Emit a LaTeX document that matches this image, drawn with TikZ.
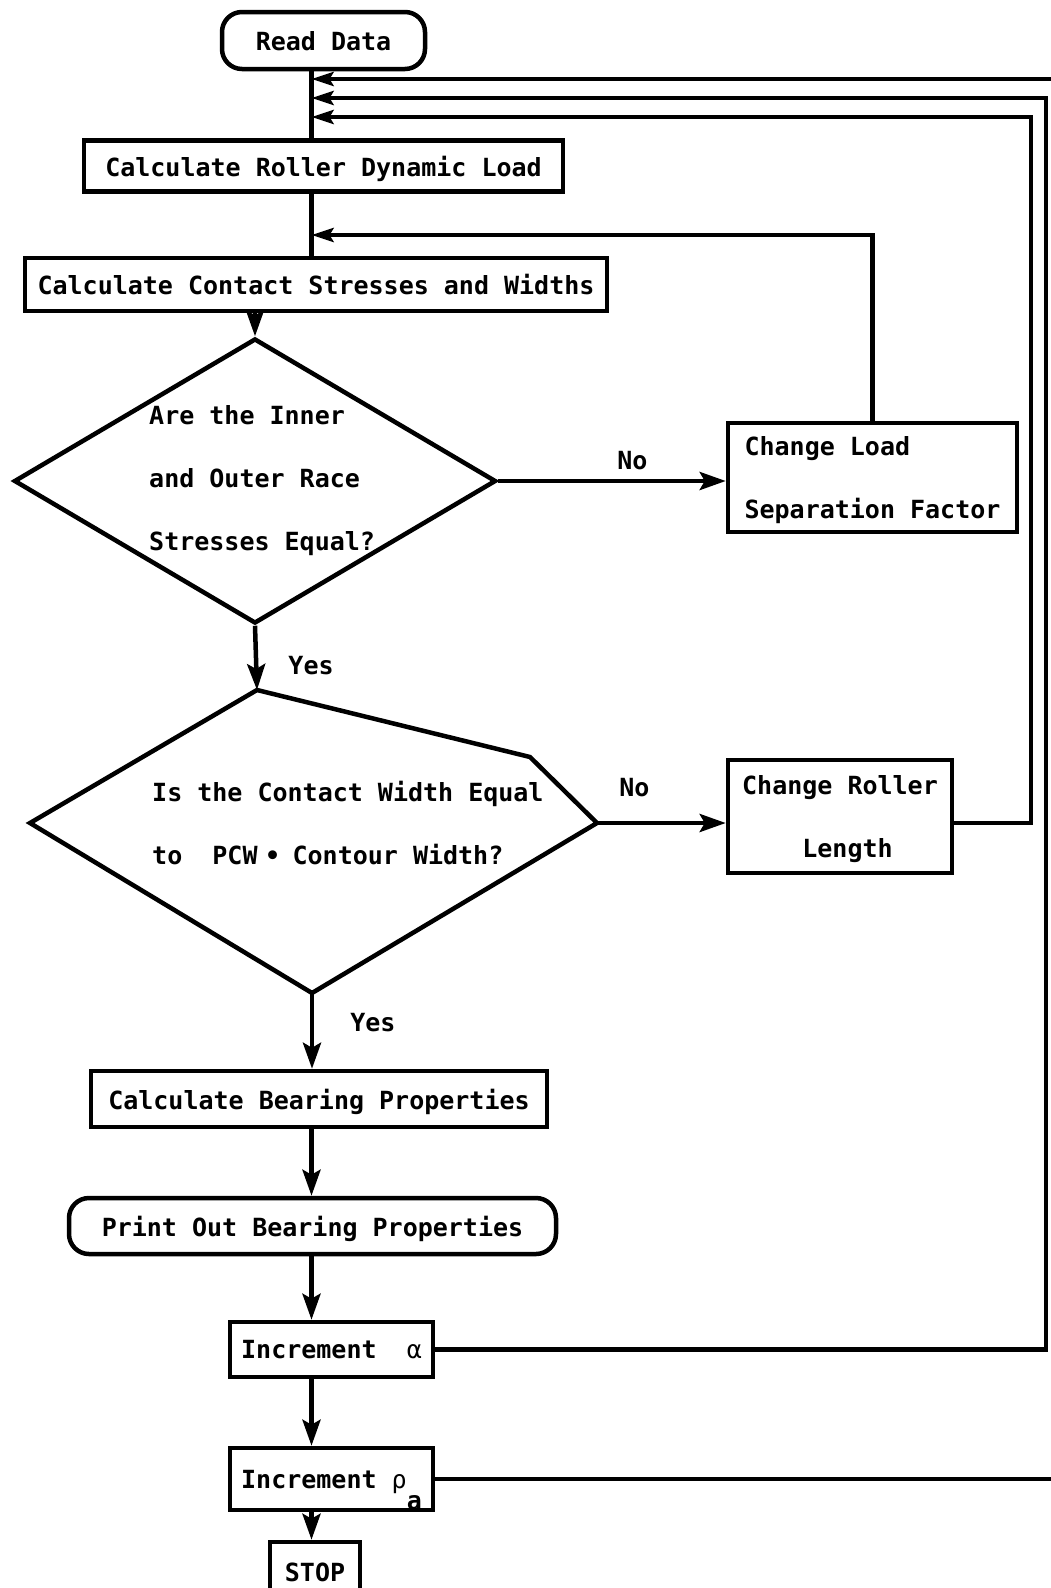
\documentclass[tikz,border=0pt]{standalone}
\usepackage{fontspec}
\setmonofont{DejaVu Sans Mono}
\usepackage{tikz}
\usetikzlibrary{arrows.meta, positioning, shapes.geometric}

\begin{document}
\begin{tikzpicture}[
    x=1pt, y=-1pt,
    every node/.style={font=\ttfamily\bfseries\fontsize{25}{63}\selectfont},
    box/.style={draw, line width=4.5pt, inner sep=0pt, align=left, text depth=0pt},
    term/.style={box, rounded corners=20pt},
    decision/.style={draw, shape=diamond, line width=4.5pt, inner sep=0pt},
    tag/.style={inner sep=0pt},
    wire/.style={line width=4.5pt},
    flow/.style={wire, -{Stealth[length=26pt,width=18pt,inset=5pt]}},
    back/.style={wire, -{Stealth[length=22pt,width=14pt,inset=4pt]}},
  ]
    \clip (0,0) rectangle (1051,1588);

    % main column
    \coordinate (spine) at (311.5,0);
    \node[term, minimum width=203pt, minimum height=57pt] (rd) at (323.5,40.5) {Read Data};
    \node[box, minimum width=479pt, minimum height=51pt] (crl) at (323.5,166)
      {Calculate Roller Dynamic Load};
    \node[box, minimum width=582pt, minimum height=53pt] (ccs) at (316,284.5)
      {Calculate Contact Stresses and Widths};

    % first test
    \node[decision, minimum width=482pt, minimum height=285pt] (d1) at (255,481) {};
    \node[tag, align=left, anchor=west] (q1) at (149,481)
      {Are the Inner\\and Outer Race\\Stresses Equal?};
    \node[box, minimum width=289pt, minimum height=109pt] (cls) at (872.5,477.5)
      {Change Load\\Separation Factor};

    % second test (drawn by hand, the upper right edge is bent)
    \coordinate (d2t) at (257,690);
    \coordinate (d2k) at (530,757);
    \coordinate (d2r) at (597,823);
    \coordinate (d2b) at (312,993);
    \coordinate (d2l) at (30,823);
    \draw[wire] (d2t) -- (d2k) -- (d2r) -- (d2b) -- (d2l) -- cycle;
    \node[tag, align=left, anchor=west] (q2) at (152,823)
      {Is the Contact Width Equal\\to~~PCW\hspace{0.3em}•\hspace{0.5em}Contour Width?};
    \node[box, minimum width=224pt, minimum height=113pt] (clen) at (840,816.5)
      {Change Roller\\\phantom{Chan}Length};

    % output and increments
    \node[box, minimum width=456pt, minimum height=56pt] (cbp) at (319,1099)
      {Calculate Bearing Properties};
    \node[term, minimum width=487pt, minimum height=56pt] (pob) at (312.5,1226)
      {Print Out Bearing Properties};
    \node[box, minimum width=203pt, minimum height=55pt] (inca) at (331.5,1349.5)
      {Increment~~{\mdseries α}};
    \node[box, minimum width=203pt, minimum height=62pt] (incr) at (331.5,1479)
      {Increment {\mdseries ρ}\raisebox{-21pt}[0pt][0pt]{a}};
    \node[box, minimum width=90pt, minimum height=60pt] (stop) at (315,1572) {STOP};

    % loop entry points on the main column
    \coordinate (j1) at (311.5,79);
    \coordinate (j2) at (311.5,98);
    \coordinate (j3) at (311.5,117);
    \coordinate (j4) at (311.5,235);
    \coordinate (xr) at (1031,0);
    \coordinate (xa) at (1046,0);
    \coordinate (xp) at (1064,0);

    % straight flow
    \draw[wire] (rd.south -| spine) -- (crl.north -| spine);
    \draw[wire] (crl.south -| spine) -- (ccs.north -| spine);
    \draw[flow] (ccs.south -| d1.north) -- (d1.north);
    \draw[flow] (d1.east) -- (d1.east -| cls.west)
      node[tag, pos=0.59, above=9pt] (no1) {No};
    \draw[flow] (d1.south) -- (d2t)
      node[tag, pos=0.62, right=30pt] (yes1) {Yes};
    \draw[flow] (d2r) -- (d2r -| clen.west)
      node[tag, pos=0.29, above=24pt] (no2) {No};
    \draw[flow] (d2b) -- (cbp.north -| d2b)
      node[tag, pos=0.39, right=36pt] (yes2) {Yes};
    \draw[flow] (cbp.south -| spine) -- (pob.north -| spine);
    \draw[flow] (pob.south -| spine) -- (inca.north -| spine);
    \draw[flow] (inca.south -| spine) -- (incr.north -| spine);
    \draw[flow] (incr.south -| spine) -- (stop.north -| spine);

    % loops back up
    \draw[back] (cls.north) |- (j4);
    \draw[back] (clen.east |- d2r) -| (xr |- j3) -- (j3);
    \draw[back] (inca.east) -| (xa |- j2) -- (j2);
    \draw[back] (incr.east) -| (xp |- j1) -- (j1);
  \end{tikzpicture}
\end{document}
